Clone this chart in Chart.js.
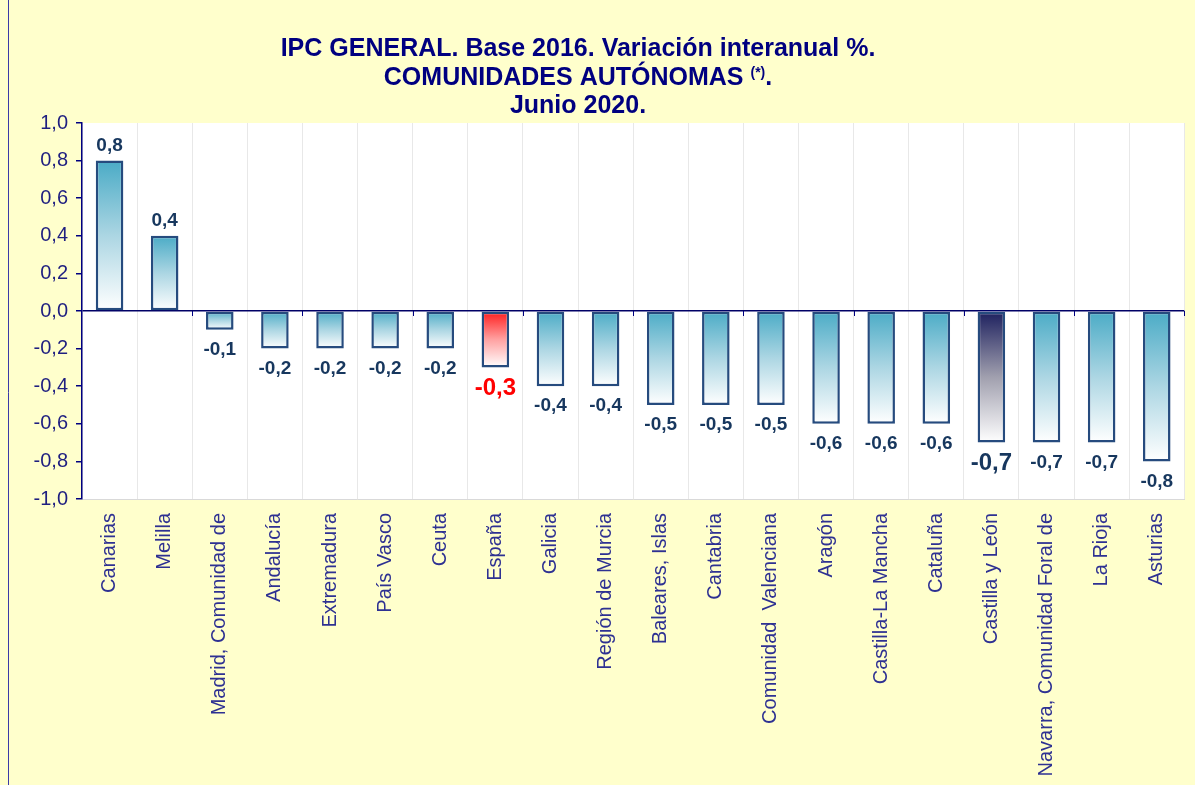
<!DOCTYPE html>
<html>
<head>
<meta charset="utf-8">
<script src="https://cdn.jsdelivr.net/npm/chart.js@4"></script>
<style>
  html, body { margin: 0; padding: 0; background: #FFFFCC; }
  #wrap { width: 1195px; height: 785px; position: relative; }
</style>
</head>
<body>
<div id="wrap"><canvas id="chart-ipc" width="1195" height="785"></canvas></div>
<script>
// datos: IPC variación interanual, junio 2020
var comunidades = ['Canarias', 'Melilla', 'Madrid, Comunidad de', 'Andalucía', 'Extremadura', 'País Vasco',
  'Ceuta', 'España', 'Galicia', 'Región de Murcia', 'Baleares, Islas', 'Cantabria', 'Comunidad  Valenciana',
  'Aragón', 'Castilla-La Mancha', 'Cataluña', 'Castilla y León', 'Navarra, Comunidad Foral de', 'La Rioja', 'Asturias'];
var variacion = [0.8, 0.4, -0.1, -0.2, -0.2, -0.2, -0.2, -0.3, -0.4, -0.4, -0.5, -0.5, -0.5, -0.6, -0.6, -0.6, -0.7, -0.7, -0.7, -0.8];
var ticksY = [-1.0, -0.8, -0.6, -0.4, -0.2, 0.0, 0.2, 0.4, 0.6, 0.8, 1.0];

var FONT = '"Liberation Sans", Arial, sans-serif';

function coma(v) {
  return v.toFixed(1).replace('.', ',');
}

function colores(nombre) {
  if (nombre === 'España') return ['#ff1a1a', '#ffa0a0', '#ffffff'];
  if (nombre === 'Castilla y León') return ['#1c1f5e', '#a09fae', '#ffffff'];
  return ['#4aabc6', '#acd6e3', '#ffffff'];
}

function relleno(ctx) {
  if (ctx.type !== 'data') return '#4aabc6';
  var chart = ctx.chart;
  var y = chart.scales.y;
  if (!chart.chartArea || !y) return '#4aabc6';
  var v = ctx.raw;
  var top = y.getPixelForValue(Math.max(v, 0));
  var bottom = y.getPixelForValue(Math.min(v, 0));
  var c = colores(comunidades[ctx.dataIndex]);
  var g = chart.ctx.createLinearGradient(0, top, 0, bottom);
  g.addColorStop(0, c[0]);
  g.addColorStop(0.5, c[1]);
  g.addColorStop(1, c[2]);
  return g;
}

var fondo = {
  id: 'fondo',
  beforeDraw: function (chart) {
    var c = chart.ctx, a = chart.chartArea;
    c.save();
    c.fillStyle = '#FFFFCC';
    c.fillRect(0, 0, chart.width, chart.height);
    c.strokeStyle = '#3a3aa8';
    c.lineWidth = 1;
    c.beginPath();
    c.moveTo(8.5, 0);
    c.lineTo(8.5, chart.height);
    c.stroke();
    c.fillStyle = '#ffffff';
    c.fillRect(a.left, a.top, a.right - a.left, a.bottom - a.top);
    c.restore();
  }
};

// marcas pequeñas sobre la línea del cero, cada dos categorías
var marcasCero = {
  id: 'marcasCero',
  afterDatasetsDraw: function (chart) {
    var c = chart.ctx, x = chart.scales.x, y = chart.scales.y;
    var y0 = y.getPixelForValue(0);
    c.save();
    c.strokeStyle = '#000080';
    c.lineWidth = 1;
    c.beginPath();
    for (var i = 1; i < comunidades.length; i += 2) {
      var px = i + 1 < comunidades.length ?
        (x.getPixelForValue(i) + x.getPixelForValue(i + 1)) / 2 : x.right;
      px = Math.round(px) + 0.5;
      c.moveTo(px, y0);
      c.lineTo(px, y0 + 5);
    }
    c.stroke();
    c.restore();
  }
};

var titulo = {
  id: 'titulo',
  afterDraw: function (chart) {
    var c = chart.ctx;
    var cx = 578;
    c.save();
    c.fillStyle = '#000080';
    c.textBaseline = 'alphabetic';
    c.textAlign = 'left';

    function linea(partes, base) {
      var total = 0;
      partes.forEach(function (p) {
        c.font = 'bold ' + p.size + 'px ' + FONT;
        total += c.measureText(p.t).width;
      });
      var x = cx - total / 2;
      partes.forEach(function (p) {
        c.font = 'bold ' + p.size + 'px ' + FONT;
        c.fillText(p.t, x, base - (p.up || 0));
        x += c.measureText(p.t).width;
      });
    }
    linea([{ t: 'IPC GENERAL. Base 2016. Variación interanual %.', size: 25 }], 56);
    linea([{ t: 'COMUNIDADES AUTÓNOMAS ', size: 25 }, { t: '(*)', size: 14, up: 8 }, { t: '.', size: 25 }], 85);
    linea([{ t: 'Junio 2020.', size: 25 }], 113);
    c.restore();
  }
};

var etiquetas = {
  id: 'etiquetas',
  afterDatasetsDraw: function (chart) {
    var c = chart.ctx;
    var meta = chart.getDatasetMeta(0);
    c.save();
    c.textAlign = 'center';
    c.textBaseline = 'middle';
    meta.data.forEach(function (bar, i) {
      var v = variacion[i];
      var nombre = comunidades[i];
      var size = 19, color = '#17375e';
      if (nombre === 'España') { size = 24; color = '#ff0000'; }
      if (nombre === 'Castilla y León') { size = 24; }
      c.font = 'bold ' + size + 'px ' + FONT;
      c.fillStyle = color;
      var y = v >= 0 ? bar.y - 15 : bar.y + (size > 19 ? 21 : 20);
      c.fillText(coma(v), bar.x, y);
    });
    c.restore();
  }
};

var ctx = document.getElementById('chart-ipc');
new Chart(ctx, {
  type: 'bar',
  data: {
    labels: comunidades,
    datasets: [{
      label: 'Variación interanual %',
      data: variacion,
      backgroundColor: relleno,
      borderColor: '#264b7e',
      borderWidth: 2.5,
      borderSkipped: false,
      barPercentage: 0.5,
      categoryPercentage: 1.0
    }]
  },
  options: {
    responsive: false,
    animation: false,
    layout: { padding: { top: 123, right: 10, left: 0, bottom: 0 } },
    plugins: {
      legend: { display: false },
      tooltip: { enabled: false },
      title: { display: false }
    },
    scales: {
      x: {
        offset: true,
        grid: { color: '#e8e8e8', drawTicks: false, offset: true },
        border: { color: '#d9d9d9' },
        ticks: {
          color: '#2e3192',
          font: { family: FONT, size: 20 },
          minRotation: 90,
          maxRotation: 90,
          autoSkip: false,
          padding: 14
        },
        afterFit: function (scale) { scale.height = 286; }
      },
      y: {
        min: -1,
        max: 1,
        afterBuildTicks: function (scale) {
          scale.ticks = ticksY.map(function (v) { return { value: v }; });
        },
        grid: {
          color: function (c) { return c.tick && Math.abs(c.tick.value) < 1e-9 ? '#000066' : 'rgba(0,0,0,0)'; },
          lineWidth: 1.5,
          tickColor: '#000080',
          tickLength: 6
        },
        border: { color: '#000080', width: 1.5 },
        ticks: {
          color: '#1f1f80',
          font: { family: FONT, size: 20 },
          padding: 8,
          callback: function (v) { return coma(v); }
        },
        afterFit: function (scale) { scale.width = 82; }
      }
    }
  },
  plugins: [fondo, marcasCero, titulo, etiquetas]
});
</script>
</body>
</html>
